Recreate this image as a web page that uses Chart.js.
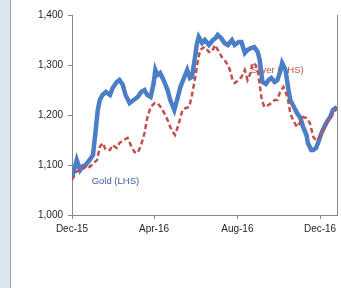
<!DOCTYPE html>
<html>
<head>
<style>
  body { margin: 0; background: #fff; }
  #side { position: absolute; left: 0; top: 0; width: 10px; height: 288px; background: #dce6f2; border-right: 1px solid #a6a6a6; }
  #wrap { position: absolute; left: 11px; top: 0; width: 330px; height: 288px; }
</style>
</head>
<body>
<script src="https://cdn.jsdelivr.net/npm/chart.js@4.4.1/dist/chart.umd.min.js"></script>
<div id="side"></div>
<div id="wrap"><canvas id="myChart" width="330" height="288"></canvas></div>
<script>
    // days counted from 1 Dec 2015
    var goldDays = [0,4,7,12,16,20,26,31,35,38, 41,45,50,56,60,66,70,75,79,85,
        91,97,102,107,111,116,120,123,126,130, 135,141,145,151,155,160,164,170,174,177,
        182,184,187,192,196,202,208,212,215,220, 225,230,236,240,246,250,255,259,264,269,
        274,277,281,286,290,294,299,303,307,310, 315,319,322,326,332,337,341,346,348,353,
        356,360,363,367,370,376,381,385,391];
    var gold = [1076,1094,1110,1090,1098,1100,1110,1120,1170,1210, 1230,1240,1246,1240,1254,1266,1270,1260,1240,1224,
        1230,1236,1246,1250,1240,1236,1260,1290,1280,1284, 1270,1250,1230,1210,1230,1256,1270,1290,1274,1276,
        1320,1340,1356,1344,1350,1340,1350,1354,1360,1354, 1344,1340,1350,1340,1346,1346,1324,1330,1334,1336,
        1326,1310,1266,1262,1270,1274,1266,1270,1286,1304, 1290,1254,1230,1220,1204,1194,1176,1160,1144,1130,
        1130,1134,1144,1160,1170,1186,1196,1210,1216];

    var silverDays = [0,6,12,18,23,26,32,37,41,45, 50,56,60,66,70,76,82,88,92,97,
        102,107,111,116,122,126,132,136,141,145, 149,152,157,163,168,173,177,182,186,189,
        193,196,202,206,211,217,221,225,230,233, 237,240,246,250,255,259,264,266,271,274,
        277,280,284,290,294,299,303,307,312,315, 318,322,326,332,337,341,346,351,356,360,
        366,370,376,381,387,391];
    var silver = [13.75,14.15,14.25,14.35,14.5,14.4,14.6,14.75,15.4,15.6, 15.25,15.25,15.5,15.35,15.6,15.75,15.85,15.4,15.15,15.1,
        15.5,16.1,16.85,17.4,17.6,17.6,17.35,17.1,16.75,16.4, 16.15,16.0,16.5,17.25,17.35,17.4,18.0,18.9,19.75,20.25,
        20.35,20.4,20.15,20.15,20.5,20.15,19.9,19.75,19.5,19.25, 18.75,18.6,18.75,18.9,19.25,18.75,19.15,19.6,19.5,19.25,
        18.5,17.75,17.4,17.5,17.6,17.75,17.75,18.15,18.4,18.15, 17.9,17.1,16.75,16.4,16.65,16.9,16.85,16.6,15.9,15.75,
        15.9,16.15,16.6,16.85,17.15,17.35];

    var xTickDays = [0, 121, 244, 366];
    var xTickLabels = ['Dec-15', 'Apr-16', 'Aug-16', 'Dec-16'];

    function pts(xs, ys) {
        return xs.map(function (x, i) { return { x: x, y: ys[i] }; });
    }

    // series labels sit under the lines
    var seriesLabels = {
        id: 'seriesLabels',
        beforeDatasetsDraw: function (chart) {
            var c = chart.ctx, sx = chart.scales.x, sy = chart.scales.y, s2 = chart.scales.y2;
            c.save();
            c.font = '9.5px "Liberation Sans", Arial, sans-serif';
            c.textBaseline = 'middle';
            c.fillStyle = '#3a62a3';
            c.fillText('Gold (LHS)', sx.getPixelForValue(29), sy.getPixelForValue(1068));
            c.fillStyle = '#c0504d';
            c.fillText('Silver (RHS)', sx.getPixelForValue(264), s2.getPixelForValue(19.25));
            c.restore();
        }
    };

    Chart.defaults.font.family = '"Liberation Sans", Arial, sans-serif';
    Chart.defaults.font.size = 10;
    Chart.defaults.color = '#262626';

    var ctx = document.getElementById("myChart").getContext('2d');
    var myChart = new Chart(ctx, {
        type: 'line',
        data: {
            datasets: [{
                label: 'Silver (RHS)',
                data: pts(silverDays, silver),
                yAxisID: 'y2',
                borderColor: '#c0504d',
                borderWidth: 2.5,
                borderDash: [5, 3],
                pointRadius: 0,
                tension: 0
            }, {
                label: 'Gold (LHS)',
                data: pts(goldDays, gold),
                yAxisID: 'y',
                borderColor: '#4a7ec6',
                borderWidth: 4.5,
                pointRadius: 0,
                tension: 0
            }]
        },
        options: {
            responsive: false,
            animation: false,
            layout: { padding: { top: 15, left: 0, right: 0, bottom: 0 } },
            plugins: { legend: { display: false }, tooltip: { enabled: false } },
            scales: {
                x: {
                    type: 'linear', min: 0, max: 391,
                    afterBuildTicks: function (s) { s.ticks = xTickDays.map(function (v) { return { value: v }; }); },
                    afterFit: function (s) { s.height = 73; },
                    ticks: {
                        padding: 4,
                        maxRotation: 0,
                        autoSkip: false,
                        callback: function (v) { return xTickLabels[xTickDays.indexOf(v)]; }
                    },
                    grid: { drawOnChartArea: false, tickLength: 4, color: '#888' },
                    border: { color: '#888' }
                },
                y: {
                    position: 'left', min: 1000, max: 1400,
                    afterFit: function (s) { s.width = 61; },
                    ticks: { stepSize: 100, padding: 5 },
                    grid: { drawOnChartArea: false, tickLength: 4, color: '#888' },
                    border: { color: '#888' }
                },
                y2: {
                    position: 'right', min: 12, max: 22,
                    afterFit: function (s) { s.width = 4; },
                    ticks: { display: false },
                    grid: { display: false },
                    border: { color: '#888' }
                }
            }
        },
        plugins: [seriesLabels]
    });
</script>
</body>
</html>
